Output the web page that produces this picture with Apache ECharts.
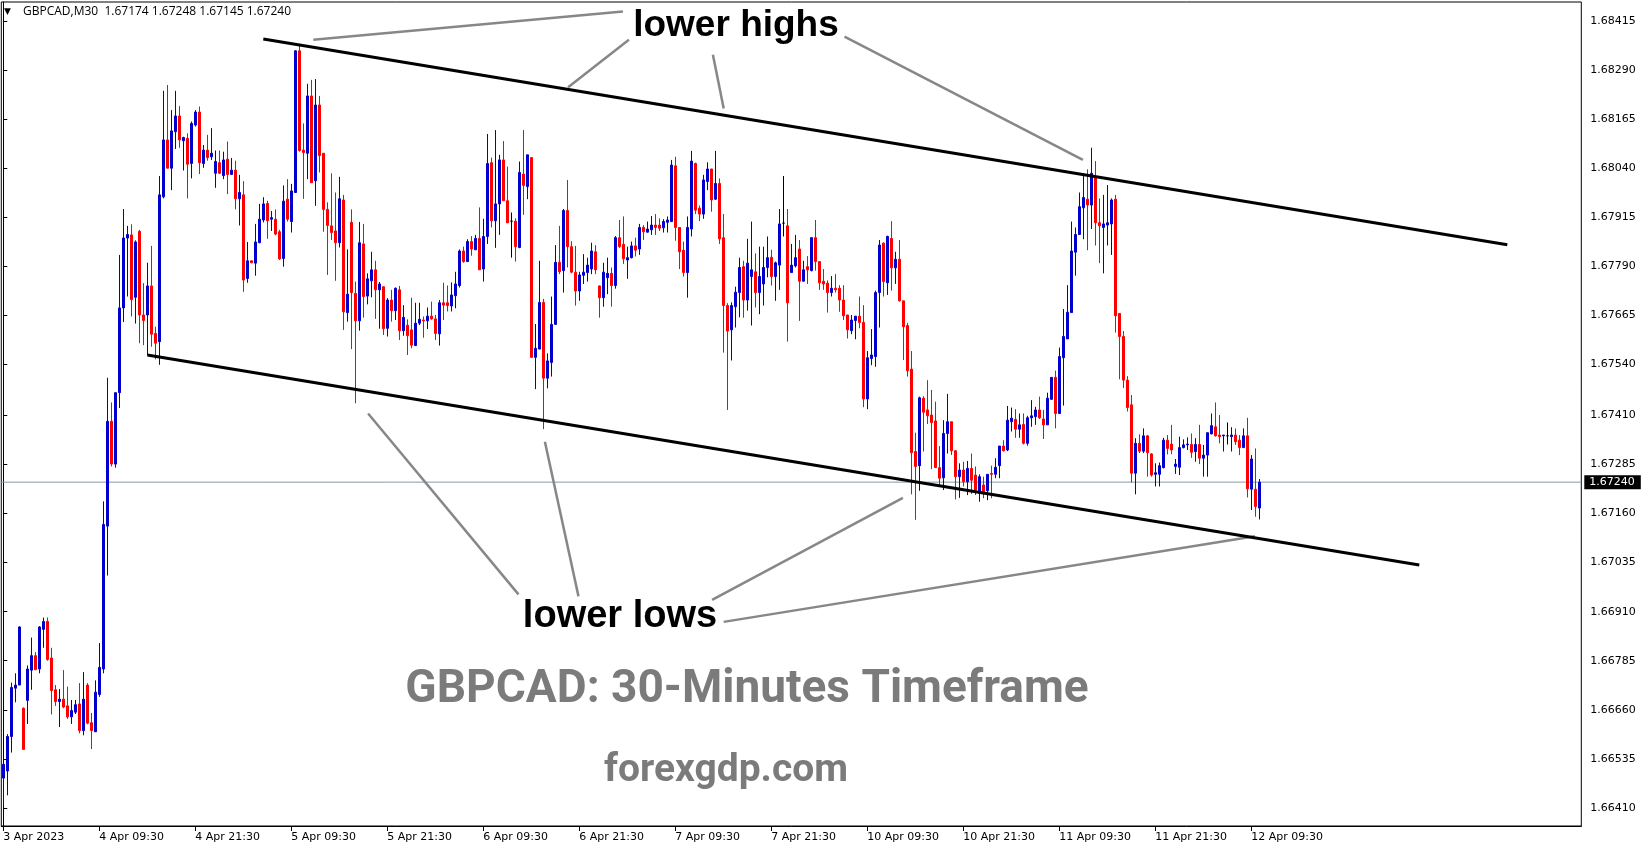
<!DOCTYPE html>
<html><head><meta charset="utf-8">
<script src="https://cdn.jsdelivr.net/npm/echarts@6/dist/echarts.min.js"></script>
<style>html,body{margin:0;padding:0;background:#fff}#c{width:1649px;height:850px}</style>
</head><body><div id="c"></div>
<script>
// ---- DATA: GBPCAD M30 candles, rows are [open, high, low, close] ----
const apr3 = [
[1.66486,1.66523,1.66415,1.66521],[1.66504,1.66598,1.66442,1.66592],[1.66592,1.66729,1.66551,1.66717],
[1.66715,1.66753,1.66679,1.66723],[1.66723,1.66873,1.66723,1.66871]];
const apr4 = [
[1.66664,1.66666,1.66559,1.66559],[1.66684,1.66773,1.66624,1.66764],[1.66761,1.66844,1.66711,1.66798],
[1.66798,1.66807,1.66762,1.66762],[1.66764,1.66873,1.66753,1.66871],[1.66865,1.66895,1.66818,1.66885],
[1.66885,1.66895,1.66785,1.66788],[1.66792,1.66818,1.66648,1.66709],[1.66711,1.66723,1.66670,1.66681],
[1.66681,1.66713,1.66616,1.66687],[1.66687,1.66761,1.66664,1.66667],[1.66670,1.66719,1.66637,1.66642],
[1.66642,1.66685,1.66624,1.66658],[1.66654,1.66685,1.66649,1.66673],[1.66675,1.66728,1.66600,1.66607],
[1.66607,1.66756,1.66595,1.66687],[1.66723,1.66728,1.66623,1.66626],[1.66627,1.66652,1.66560,1.66607],
[1.66604,1.66735,1.66604,1.66705],[1.66699,1.66830,1.66693,1.66768],[1.66764,1.67191,1.66753,1.67132],
[1.67128,1.67506,1.67002,1.67395],[1.67395,1.67443,1.67280,1.67286],[1.67286,1.67468,1.67277,1.67468],
[1.67468,1.67819,1.67429,1.67684],[1.67684,1.67936,1.67648,1.67862],[1.67862,1.67893,1.67713,1.67871],
[1.67870,1.67897,1.67662,1.67705],[1.67711,1.67856,1.67644,1.67852],[1.67879,1.67883,1.67594,1.67666],
[1.67666,1.67747,1.67589,1.67652],[1.67666,1.67799,1.67564,1.67740],[1.67740,1.67842,1.67585,1.67617],
[1.67619,1.67636,1.67553,1.67594],[1.67598,1.68020,1.67539,1.67972],[1.67967,1.68237,1.67963,1.68112],
[1.68112,1.68252,1.68040,1.68040],[1.68040,1.68188,1.67984,1.68135],[1.68133,1.68237,1.68089,1.68173],
[1.68173,1.68198,1.68092,1.68112],[1.68110,1.68120,1.68034,1.68118],[1.68116,1.68129,1.67963,1.68050],
[1.68052,1.68159,1.68014,1.68154],[1.68150,1.68188,1.68146,1.68183],[1.68183,1.68197,1.68025,1.68054],
[1.68052,1.68099,1.68041,1.68086],[1.68086,1.68125,1.68059,1.68067],[1.68069,1.68142,1.68061,1.68078]];
const apr5 = [
[1.68027,1.68085,1.67990,1.68057],[1.68054,1.68085,1.68025,1.68027],[1.68021,1.68082,1.68012,1.68061],
[1.68063,1.68108,1.67974,1.68024],[1.68024,1.68066,1.68023,1.68035],[1.68035,1.68059,1.67935,1.67962],
[1.67962,1.68023,1.67894,1.67978],[1.67972,1.68007,1.67725,1.67755],[1.67759,1.67852,1.67748,1.67804],
[1.67804,1.67804,1.67798,1.67799],[1.67798,1.67898,1.67766,1.67852],[1.67850,1.67949,1.67849,1.67910],
[1.67908,1.67966,1.67902,1.67949],[1.67950,1.67957,1.67860,1.67906],[1.67910,1.67931,1.67880,1.67914],
[1.67910,1.67935,1.67869,1.67872],[1.67878,1.67883,1.67806,1.67809],[1.67810,1.67996,1.67789,1.67956],
[1.67961,1.68012,1.67904,1.67910],[1.67904,1.68000,1.67876,1.67982],[1.67978,1.68341,1.67978,1.68339],
[1.68339,1.68354,1.68082,1.68085],[1.68086,1.68154,1.67962,1.68080],[1.68078,1.68255,1.68012,1.68224],
[1.68224,1.68265,1.68003,1.68003],[1.68008,1.68267,1.67944,1.68201],[1.68201,1.68224,1.68029,1.68072],
[1.68078,1.68078,1.67878,1.67935],[1.67935,1.67953,1.67768,1.67894],[1.67893,1.68027,1.67857,1.67876],
[1.67880,1.67978,1.67753,1.67850],[1.67850,1.68018,1.67838,1.67962],[1.67959,1.67972,1.67628,1.67674],
[1.67672,1.67833,1.67649,1.67719],[1.67902,1.67935,1.67579,1.67723],[1.67721,1.67751,1.67441,1.67651],
[1.67651,1.67903,1.67626,1.67850],[1.67847,1.67898,1.67659,1.67713],[1.67714,1.67772,1.67693,1.67758],
[1.67753,1.67827,1.67711,1.67781],[1.67781,1.67804,1.67656,1.67730],[1.67730,1.67750,1.67631,1.67745],
[1.67738,1.67738,1.67615,1.67631],[1.67632,1.67709,1.67611,1.67704],[1.67704,1.67730,1.67649,1.67677],
[1.67677,1.67736,1.67653,1.67734],[1.67730,1.67740,1.67602,1.67626],[1.67626,1.67691,1.67613,1.67660]];
const apr6 = [
[1.67640,1.67655,1.67564,1.67613],[1.67628,1.67710,1.67581,1.67589],[1.67588,1.67697,1.67587,1.67645],
[1.67645,1.67697,1.67640,1.67655],[1.67653,1.67662,1.67608,1.67651],[1.67651,1.67685,1.67630,1.67663],
[1.67663,1.67700,1.67654,1.67656],[1.67656,1.67666,1.67602,1.67619],[1.67618,1.67704,1.67588,1.67697],
[1.67697,1.67748,1.67653,1.67691],[1.67697,1.67741,1.67675,1.67690],[1.67689,1.67749,1.67675,1.67717],
[1.67715,1.67776,1.67683,1.67745],[1.67741,1.67833,1.67736,1.67829],[1.67829,1.67840,1.67799,1.67802],
[1.67802,1.67859,1.67802,1.67853],[1.67853,1.67867,1.67817,1.67834],[1.67832,1.67870,1.67832,1.67861],
[1.67861,1.67940,1.67781,1.67781],[1.67783,1.67911,1.67751,1.67866],[1.67866,1.68127,1.67847,1.68052],
[1.68054,1.68067,1.67889,1.67906],[1.67906,1.68137,1.67837,1.67949],[1.67949,1.68074,1.67870,1.68061],
[1.68061,1.68109,1.67957,1.67957],[1.67957,1.68044,1.67900,1.67901],[1.67905,1.67927,1.67812,1.67905],
[1.67905,1.67912,1.67802,1.67840],[1.67838,1.68057,1.67836,1.68029],[1.68025,1.68137,1.67921,1.67996],
[1.67993,1.68074,1.67961,1.68074],[1.68067,1.68067,1.67558,1.67558],[1.67558,1.67643,1.67477,1.67581],
[1.67579,1.67804,1.67579,1.67698],[1.67698,1.67707,1.67375,1.67505],[1.67505,1.67568,1.67479,1.67549],
[1.67545,1.67713,1.67509,1.67642],[1.67642,1.67844,1.67642,1.67800],[1.67800,1.67893,1.67770,1.67776],
[1.67779,1.67936,1.67723,1.67932],[1.67932,1.68010,1.67787,1.67840],[1.67840,1.67854,1.67772,1.67775],
[1.67775,1.67842,1.67690,1.67727],[1.67727,1.67776,1.67702,1.67768],[1.67767,1.67821,1.67745,1.67775],
[1.67774,1.67812,1.67751,1.67793],[1.67783,1.67850,1.67770,1.67829],[1.67827,1.67844,1.67770,1.67781]];
const apr7 = [
[1.67740,1.67741,1.67659,1.67710],[1.67710,1.67799,1.67687,1.67775],[1.67761,1.67812,1.67719,1.67772],
[1.67772,1.67787,1.67687,1.67741],[1.67741,1.67867,1.67733,1.67863],[1.67863,1.67908,1.67837,1.67840],
[1.67846,1.67917,1.67796,1.67809],[1.67806,1.67840,1.67758,1.67812],[1.67812,1.67853,1.67810,1.67842],
[1.67842,1.67863,1.67815,1.67831],[1.67834,1.67898,1.67819,1.67889],[1.67889,1.67895,1.67857,1.67878],
[1.67877,1.67904,1.67876,1.67885],[1.67883,1.67918,1.67870,1.67895],[1.67895,1.67923,1.67870,1.67889],
[1.67895,1.67912,1.67880,1.67887],[1.67888,1.67910,1.67876,1.67904],[1.67902,1.67917,1.67876,1.67908],
[1.67904,1.68061,1.67904,1.68048],[1.68046,1.68069,1.67855,1.67889],[1.67889,1.67889,1.67783,1.67827],
[1.67831,1.67853,1.67764,1.67774],[1.67774,1.67917,1.67710,1.67889],[1.67885,1.68084,1.67866,1.68058],
[1.68052,1.68054,1.67923,1.67933],[1.67938,1.67945,1.67905,1.67923],[1.67923,1.68023,1.67911,1.68010],
[1.68006,1.68055,1.67984,1.68038],[1.68038,1.68038,1.67929,1.67959],[1.67961,1.68084,1.67959,1.68001],
[1.68001,1.68014,1.67847,1.67860],[1.67863,1.67923,1.67570,1.67690],[1.67690,1.67696,1.67424,1.67625],
[1.67628,1.67698,1.67550,1.67690],[1.67687,1.67738,1.67634,1.67724],[1.67723,1.67812,1.67660,1.67787],
[1.67789,1.67804,1.67659,1.67704],[1.67704,1.67860,1.67677,1.67798],[1.67764,1.67904,1.67639,1.67781],
[1.67776,1.67823,1.67685,1.67723],[1.67723,1.67840,1.67668,1.67764],[1.67745,1.67840,1.67690,1.67787],
[1.67787,1.67866,1.67762,1.67812],[1.67813,1.67832,1.67741,1.67764],[1.67764,1.67802,1.67702,1.67799],
[1.67793,1.67936,1.67730,1.67898],[1.67900,1.68020,1.67866,1.67900],[1.67893,1.67936,1.67598,1.67697]];
const apr10 = [
[1.67774,1.67847,1.67774,1.67793],[1.67791,1.67870,1.67787,1.67812],[1.67834,1.67857,1.67651,1.67752],
[1.67752,1.67804,1.67752,1.67781],[1.67789,1.67816,1.67745,1.67781],[1.67779,1.67863,1.67777,1.67863],
[1.67863,1.67908,1.67779,1.67802],[1.67802,1.67802,1.67730,1.67748],[1.67752,1.67783,1.67730,1.67745],
[1.67747,1.67754,1.67672,1.67723],[1.67723,1.67765,1.67713,1.67734],[1.67734,1.67770,1.67723,1.67730],
[1.67734,1.67742,1.67674,1.67704],[1.67704,1.67742,1.67653,1.67664],[1.67666,1.67666,1.67606,1.67628],
[1.67626,1.67666,1.67617,1.67653],[1.67652,1.67663,1.67604,1.67663],[1.67663,1.67713,1.67632,1.67647],
[1.67647,1.67691,1.67431,1.67452],[1.67452,1.67574,1.67426,1.67557],[1.67555,1.67630,1.67538,1.67564],
[1.67560,1.67728,1.67534,1.67723],[1.67723,1.67857,1.67634,1.67844],[1.67849,1.67851,1.67713,1.67751],
[1.67748,1.67868,1.67717,1.67866],[1.67861,1.67905,1.67728,1.67786],[1.67786,1.67827,1.67745,1.67808],
[1.67808,1.67857,1.67700,1.67702],[1.67702,1.67702,1.67551,1.67636],[1.67639,1.67646,1.67509,1.67524],
[1.67528,1.67574,1.67209,1.67315],[1.67318,1.67366,1.67144,1.67280],[1.67282,1.67458,1.67218,1.67455],
[1.67454,1.67459,1.67318,1.67418],[1.67424,1.67500,1.67388,1.67409],[1.67411,1.67475,1.67273,1.67392],
[1.67396,1.67445,1.67277,1.67277],[1.67277,1.67332,1.67230,1.67250],[1.67251,1.67398,1.67220,1.67364],
[1.67364,1.67465,1.67313,1.67394],[1.67394,1.67394,1.67309,1.67320],[1.67320,1.67322,1.67196,1.67254],
[1.67254,1.67288,1.67200,1.67271],[1.67271,1.67292,1.67229,1.67241],[1.67241,1.67294,1.67207,1.67275],
[1.67275,1.67313,1.67210,1.67245],[1.67258,1.67280,1.67207,1.67220],[1.67212,1.67260,1.67190,1.67254]];
const apr11 = [
[1.67233,1.67254,1.67199,1.67216],[1.67218,1.67260,1.67194,1.67260],[1.67262,1.67282,1.67199,1.67260],
[1.67260,1.67301,1.67250,1.67278],[1.67282,1.67332,1.67250,1.67332],[1.67332,1.67347,1.67318,1.67320],
[1.67322,1.67434,1.67319,1.67398],[1.67394,1.67430,1.67369,1.67403],[1.67400,1.67426,1.67353,1.67375],
[1.67375,1.67415,1.67353,1.67386],[1.67387,1.67415,1.67336,1.67339],[1.67339,1.67409,1.67333,1.67404],
[1.67404,1.67449,1.67381,1.67409],[1.67407,1.67432,1.67386,1.67424],[1.67424,1.67458,1.67401,1.67404],
[1.67401,1.67424,1.67350,1.67386],[1.67386,1.67468,1.67386,1.67454],[1.67451,1.67507,1.67451,1.67507],
[1.67507,1.67524,1.67377,1.67415],[1.67415,1.67583,1.67415,1.67560],[1.67557,1.67681,1.67435,1.67611],
[1.67605,1.67742,1.67605,1.67673],[1.67672,1.67904,1.67672,1.67829],[1.67826,1.67889,1.67766,1.67871],
[1.67871,1.67978,1.67871,1.67942],[1.67939,1.68027,1.67859,1.67965],[1.67961,1.68037,1.67831,1.67946],
[1.67946,1.68092,1.67885,1.68027],[1.68018,1.68058,1.67843,1.67901],[1.67901,1.67963,1.67798,1.67893],
[1.67889,1.67972,1.67772,1.67898],[1.67895,1.67997,1.67843,1.67901],[1.67898,1.67963,1.67819,1.67959],
[1.67961,1.67972,1.67621,1.67664],[1.67670,1.67670,1.67502,1.67611],[1.67611,1.67625,1.67480,1.67500],
[1.67500,1.67510,1.67420,1.67430],[1.67437,1.67462,1.67239,1.67263],[1.67263,1.67352,1.67209,1.67339],
[1.67339,1.67362,1.67314,1.67319],[1.67319,1.67377,1.67314,1.67358],[1.67358,1.67360,1.67254,1.67315],
[1.67312,1.67314,1.67254,1.67258],[1.67260,1.67288,1.67229,1.67264],[1.67260,1.67290,1.67229,1.67282],
[1.67277,1.67353,1.67275,1.67347],[1.67347,1.67360,1.67311,1.67326],[1.67337,1.67386,1.67311,1.67322]];
const apr12 = [
[1.67280,1.67299,1.67261,1.67286],[1.67278,1.67356,1.67258,1.67328],[1.67328,1.67349,1.67326,1.67335],
[1.67335,1.67354,1.67322,1.67337],[1.67336,1.67364,1.67302,1.67316],[1.67318,1.67352,1.67292,1.67336],
[1.67336,1.67386,1.67286,1.67301],[1.67301,1.67335,1.67254,1.67309],[1.67309,1.67366,1.67254,1.67366],
[1.67363,1.67415,1.67362,1.67384],[1.67381,1.67443,1.67356,1.67358],[1.67360,1.67411,1.67339,1.67356],
[1.67358,1.67360,1.67318,1.67360],[1.67358,1.67392,1.67336,1.67358],[1.67356,1.67380,1.67318,1.67360],
[1.67360,1.67377,1.67335,1.67343],[1.67347,1.67360,1.67309,1.67328],[1.67328,1.67377,1.67328,1.67358],
[1.67358,1.67404,1.67201,1.67223],[1.67222,1.67309,1.67169,1.67299],[1.67222,1.67326,1.67152,1.67178],
[1.67174,1.67248,1.67145,1.67240]];

const xTickLabels = ['3 Apr 2023','4 Apr 09:30','4 Apr 21:30','5 Apr 09:30','5 Apr 21:30','6 Apr 09:30',
  '6 Apr 21:30','7 Apr 09:30','7 Apr 21:30','10 Apr 09:30','10 Apr 21:30','11 Apr 09:30','11 Apr 21:30','12 Apr 09:30'];
const xTickStep = 24;            // one label every 24 bars (12 hours)
const yTickValues = [1.68415,1.68290,1.68165,1.68040,1.67915,1.67790,1.67665,1.67540,1.67410,
  1.67285,1.67160,1.67035,1.66910,1.66785,1.66660,1.66535,1.66410];
const lastPrice = 1.67240;
const symbol = 'GBPCAD', timeframe = 'M30';

// trend channel and pointer annotations, in (bar index, price) units
const channelUpper = [[65, 1.68369], [376, 1.67845]];
const channelLower = [[36, 1.67564], [354, 1.67029]];
const pointerLines = [
  [[154.9,1.68439],[77.5,1.68367]],
  [[156.4,1.68367],[141.2,1.68246]],
  [[177.4,1.68329],[180.1,1.68192]],
  [[210.3,1.68375],[269.9,1.68061]],
  [[91.2,1.67415],[128.8,1.66954]],
  [[135.4,1.67343],[143.8,1.66949]],
  [[224.9,1.67200],[177.2,1.66940]],
  [[180.1,1.66884],[312.9,1.67102]]
];
const textHighs = 'lower highs', textLows = 'lower lows';
const titleText = 'GBPCAD: 30-Minutes Timeframe', siteText = 'forexgdp.com';

// ---- build ----
const candles = [].concat(apr3, apr4, apr5, apr6, apr7, apr10, apr11, apr12);
const SLOTS = 395; // visible bar slots including the empty right shift
const cats = Array.from({length: SLOTS}, (_, i) => String(i));
const BULL = '#0000CD', BEAR = '#FF0000';
const ohlc = candles.map(r => {
  const v = [r[0], r[3], r[2], r[1]];
  if (r[0] === r[3]) return {value: v, itemStyle: {color:'#000', color0:'#000', borderColor:'#000', borderColor0:'#000'}};
  return v;
});
const last = candles[candles.length - 1];
const header = symbol + ',' + timeframe + '  ' + last.map(v => v.toFixed(5)).join(' ');

const yMin = 1.663639, yMax = 1.684634;
const showTick = (i) => i % xTickStep === 0 && i / xTickStep < xTickLabels.length;
const FONT = '"DejaVu Sans", sans-serif';

const chart = echarts.init(document.getElementById('c'), null, {renderer: 'canvas'});
const series = [
  {type:'line', xAxisIndex:1, yAxisIndex:0, data:[[-0.5,lastPrice],[SLOTS-0.5,lastPrice]], symbol:'none',
   lineStyle:{color:'#8a96a3', width:1}, z:1, silent:true, animation:false},
  {type:'candlestick', xAxisIndex:0, yAxisIndex:0, data: ohlc, barWidth: 2, z:2, animation:false,
   itemStyle:{color:BULL, color0:BEAR, borderColor:BULL, borderColor0:BEAR, borderColorDoji:'#000', borderWidth:1}},
  {type:'line', xAxisIndex:1, yAxisIndex:0, data: channelUpper, symbol:'none', lineStyle:{color:'#000', width:3}, z:4, silent:true, animation:false},
  {type:'line', xAxisIndex:1, yAxisIndex:0, data: channelLower, symbol:'none', lineStyle:{color:'#000', width:3}, z:4, silent:true, animation:false}
];
pointerLines.forEach(seg => series.push({type:'line', xAxisIndex:1, yAxisIndex:0, data: seg, symbol:'none',
  lineStyle:{color:'#878787', width:2.5}, z:3, silent:true, animation:false}));

chart.setOption({
  animation: false,
  backgroundColor: '#fff',
  textStyle: {fontFamily: FONT},
  grid: {left: 1.3, top: 2, width: 1580, height: 824, show: true, borderColor: '#000', borderWidth: 1,
         backgroundColor: '#fff', containLabel: false, outerBoundsMode: 'none'},
  xAxis: [
    {type:'category', data: cats, boundaryGap: true,
     axisLine:{show:true, lineStyle:{color:'#000', width:1}},
     axisTick:{show:true, alignWithLabel:true, interval: showTick, length:5, lineStyle:{color:'#000'}},
     axisLabel:{show:true, interval: showTick, formatter: (v, i) => xTickLabels[i / xTickStep],
       align:'left', margin:6, color:'#000', fontSize:11, fontFamily: FONT},
     splitLine:{show:false}},
    {type:'value', min:-0.5, max:SLOTS-0.5, show:false, gridIndex:0}
  ],
  yAxis: [
    {type:'value', position:'right', min:yMin, max:yMax, scale:true,
     axisLine:{show:true, lineStyle:{color:'#000', width:1}},
     axisTick:{show:true, length:4, customValues: yTickValues, lineStyle:{color:'#000'}},
     axisLabel:{show:true, customValues: yTickValues, formatter: v => v.toFixed(5), margin:9,
       color:'#000', fontSize:11, fontFamily: FONT},
     splitLine:{show:false}},
    {type:'value', position:'right', min:yMin, max:yMax, scale:true,
     axisLine:{show:false}, axisTick:{show:false}, splitLine:{show:false},
     axisLabel:{show:true, customValues:[lastPrice], formatter: v => v.toFixed(5), margin:3,
       color:'#fff', backgroundColor:'#000', padding:[2,6,1,5], fontSize:11, fontFamily: FONT}}
  ],
  series: series,
  graphic: [
    {type:'text', x:4, y:12, z:100, style:{text:'\u25BC', fill:'#000', font:'9px "DejaVu Sans"', align:'left', textAlign:'left', verticalAlign:'middle', textVerticalAlign:'middle'}},
    {type:'text', x:23, y:12, z:100, style:{text: header, fill:'#000', font:'12px "Open Sans"', align:'left', textAlign:'left', verticalAlign:'middle', textVerticalAlign:'middle'}},
    {type:'text', x:736, y:26, z:100, style:{text: textHighs, fill:'#000', font:'bold 37px "Liberation Sans"', align:'center', textAlign:'center', verticalAlign:'middle', textVerticalAlign:'middle'}},
    {type:'text', x:620, y:617, z:100, style:{text: textLows, fill:'#000', font:'bold 38px "Liberation Sans"', align:'center', textAlign:'center', verticalAlign:'middle', textVerticalAlign:'middle'}},
    {type:'text', x:747, y:690, z:100, style:{text: titleText, fill:'#7b7b7b', font:'bold 46px Roboto', align:'center', textAlign:'center', verticalAlign:'middle', textVerticalAlign:'middle'}},
    {type:'text', x:726, y:771, z:100, style:{text: siteText, fill:'#7b7b7b', font:'bold 39px Roboto', align:'center', textAlign:'center', verticalAlign:'middle', textVerticalAlign:'middle'}}
  ]
});
</script>
</body></html>
